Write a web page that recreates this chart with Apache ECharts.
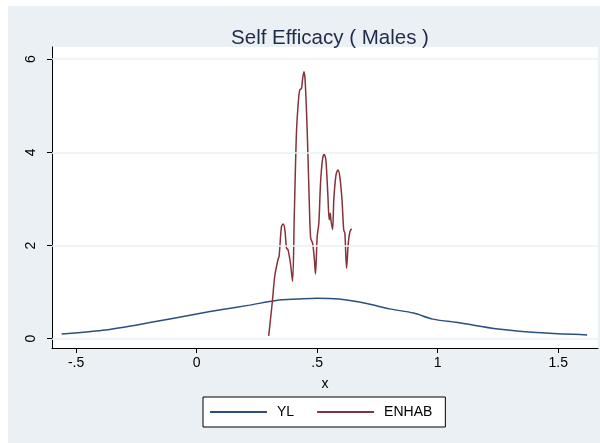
<!DOCTYPE html>
<html>
<head>
<meta charset="utf-8">
<script src="https://cdn.jsdelivr.net/npm/echarts@6/dist/echarts.min.js"></script>
<style>
  html, body { margin: 0; padding: 0; background: #fff; }
  #chart { width: 600px; height: 443px; }
</style>
</head>
<body>
<div id="chart"></div>
<script>
// YL curve
var ylX = [-0.56, -0.39, -0.2, 0, 0.1, 0.22, 0.33, 0.42, 0.5, 0.59, 0.71, 0.8, 0.9, 0.98, 1.09, 1.25, 1.45, 1.62];
var ylY = [0.10, 0.18, 0.34, 0.53, 0.62, 0.72, 0.82, 0.85, 0.87, 0.85, 0.75, 0.64, 0.55, 0.42, 0.34, 0.21, 0.12, 0.08];

// ENHAB curve
var enhabX = [0.299, 0.315, 0.324, 0.338, 0.342, 0.352, 0.359, 0.366, 0.373, 0.379, 0.389, 0.398,
  0.405, 0.414, 0.423, 0.428, 0.435, 0.439, 0.445, 0.450, 0.459, 0.467, 0.473, 0.481, 0.488, 0.493,
  0.500, 0.507, 0.514, 0.522, 0.529, 0.536, 0.544, 0.550, 0.554, 0.558, 0.564, 0.569, 0.578, 0.586,
  0.594, 0.603, 0.610, 0.615, 0.622, 0.629, 0.636, 0.643];
var enhabY = [0.06, 0.84, 1.34, 1.71, 1.76, 2.41, 2.46, 2.34, 1.94, 1.91, 1.62, 1.23,
  2.62, 4.41, 5.16, 5.34, 5.37, 5.55, 5.73, 5.55, 4.41, 2.98, 2.16, 2.05, 1.73, 1.39,
  2.19, 2.48, 3.34, 3.84, 3.96, 3.84, 3.12, 2.55, 2.69, 2.51, 2.34, 2.98, 3.51, 3.62,
  3.48, 2.98, 2.34, 2.26, 1.51, 2.05, 2.30, 2.36];

var xTicks = [-0.5, 0, 0.5, 1, 1.5];
var yTicks = [0, 2, 4, 6];

var bg = '#eaf0f3';
var font = 'Liberation Sans';

function pairs(xs, ys) {
  return xs.map(function (x, i) { return [x, ys[i]]; });
}

var chart = echarts.init(document.getElementById('chart'));
chart.setOption({
  animation: false,
  textStyle: { fontFamily: font },
  graphic: [{
    type: 'rect',
    z: -10,
    shape: { x: 8, y: 6, width: 592, height: 437 },
    style: { fill: bg }
  }],
  title: {
    text: 'Self Efficacy ( Males )',
    left: 325,
    top: 23,
    textAlign: 'center',
    textStyle: { fontFamily: font, fontSize: 20.5, fontWeight: 'normal', color: '#1e2b4a' }
  },
  grid: {
    left: 52, right: 2, top: 47, bottom: 95,
    show: true, backgroundColor: '#fff', borderWidth: 0
  },
  legend: {
    left: 203,
    top: 397,
    padding: [8, 13, 8, 7],
    itemGap: 23,
    itemWidth: 57,
    itemHeight: 2,
    icon: 'rect',
    backgroundColor: '#fff',
    borderColor: '#000',
    borderWidth: 1,
    borderRadius: 0,
    textStyle: { fontFamily: font, fontSize: 14, color: '#000', padding: [0, 0, 0, 5] },
    data: ['YL', 'ENHAB']
  },
  xAxis: {
    type: 'value',
    min: -0.6,
    max: 1.665,
    name: 'x',
    nameLocation: 'middle',
    nameGap: 29,
    nameTextStyle: { fontFamily: font, fontSize: 14, color: '#000' },
    axisLine: { onZero: false, lineStyle: { color: '#000', width: 1 } },
    axisTick: { length: 5, lineStyle: { color: '#000' }, customValues: xTicks },
    axisLabel: {
      customValues: xTicks,
      margin: 8,
      fontSize: 14,
      color: '#000',
      formatter: function (v) {
        return String(v).replace(/^(-?)0\./, '$1.');
      }
    },
    splitLine: { show: false }
  },
  yAxis: {
    type: 'value',
    min: -0.2,
    max: 6.26,
    axisLine: { show: true, onZero: false, lineStyle: { color: '#000', width: 1 } },
    axisTick: { show: true, length: 5, lineStyle: { color: '#000' }, customValues: yTicks },
    axisLabel: { customValues: yTicks, rotate: 90, margin: 14, fontSize: 14, color: '#000' },
    splitLine: { show: false }
  },
  series: [
    {
      name: 'grid',
      type: 'line',
      data: [],
      silent: true,
      markLine: {
        silent: true,
        symbol: 'none',
        label: { show: false },
        lineStyle: { color: bg, width: 1.5, type: 'solid' },
        data: yTicks.map(function (v) { return { yAxis: v }; })
      }
    },
    {
      name: 'YL',
      type: 'line',
      data: pairs(ylX, ylY),
      showSymbol: false,
      symbol: 'none',
      smooth: 0.3,
      lineStyle: { color: '#2b4f80', width: 1.5 },
      itemStyle: { color: '#2b4f80' }
    },
    {
      name: 'ENHAB',
      type: 'line',
      data: pairs(enhabX, enhabY),
      showSymbol: false,
      symbol: 'none',
      smooth: 0.3,
      lineStyle: { color: '#86323a', width: 1.5 },
      itemStyle: { color: '#86323a' }
    }
  ]
});
</script>
</body>
</html>
